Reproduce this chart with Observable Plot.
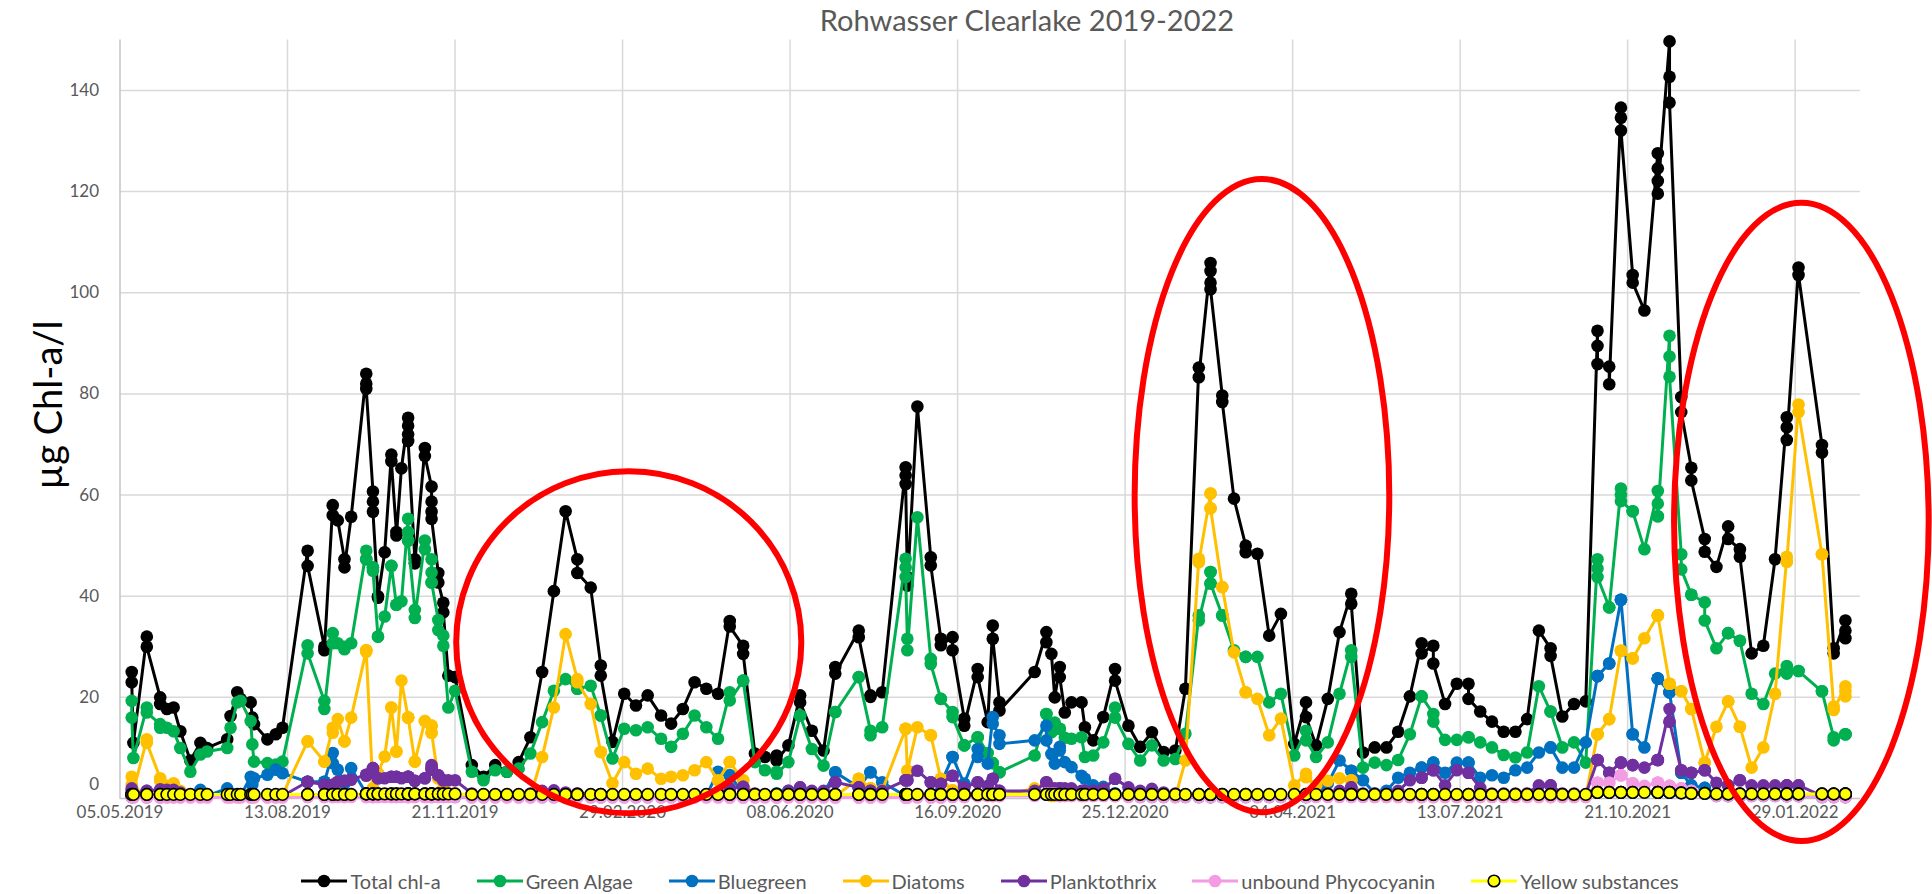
<!DOCTYPE html>
<html>
<head>
<meta charset="utf-8">
<script src="https://cdn.jsdelivr.net/npm/d3@7"></script>
<script src="https://cdn.jsdelivr.net/npm/@observablehq/plot@0.6"></script>
<style>
  html, body { margin: 0; padding: 0; }
  body { width: 1932px; height: 894px; overflow: hidden; background: #fff; position: relative; font-family: Lato, "Open Sans", sans-serif; }
  #chart { position: absolute; left: 0; top: 0; }
  #title { position: absolute; top: 2px; left: 727px; width: 600px; text-align: center; font-size: 29px; line-height: 36px; color: #595959; white-space: nowrap; }
  #ytitle { position: absolute; left: 47px; top: 405px; width: 0; height: 0; }
  #ytitle span { position: absolute; left: 0; top: 0; transform: translate(-50%, -50%) rotate(-90deg); font-size: 38px; line-height: 44px; color: #000; white-space: nowrap; }
  #legend { position: absolute; left: 48px; width: 1884px; top: 869px; display: flex; justify-content: center; gap: 36px; font-size: 20px; line-height: 24px; color: #595959; }
  .item { display: flex; align-items: center; gap: 3px; white-space: nowrap; }
  .item svg { display: block; }
</style>
</head>
<body>
<div id="chart"></div>
<div id="title">Rohwasser Clearlake 2019-2022</div>
<div id="ytitle"><span></span></div>
<div id="legend"></div>
<script>
// ---------------- data ----------------
const originDate = "2019-05-05";      // first axis date
const axisEndDate = "2022-03-09";     // right end of the date axis

// sample day, counted in days from originDate (stacked values share a day)
const sampleDay = [
  7,7,8,16,16,24,24,28,32,36,
  42,48,52,64,66,70,72,78,79,80,
  88,93,97,112,112,122,122,127,127,130,
  134,134,138,147,147,147,151,151,151,154,
  154,158,162,162,165,165,168,172,172,172,
  172,176,176,182,182,186,186,186,186,190,
  190,193,193,196,200,210,217,224,231,238,
  245,252,259,266,273,273,281,287,287,294,
  301,308,315,323,329,336,343,350,357,364,
  364,372,372,379,385,392,392,399,406,406,
  413,420,427,427,441,441,448,448,455,469,
  469,469,470,470,476,484,484,490,490,497,
  497,504,504,512,512,518,521,521,525,525,
  546,553,553,556,558,561,561,564,568,574,
  576,581,587,594,594,602,609,616,623,630,
  636,644,644,651,651,651,651,658,658,665,
  672,672,679,686,693,701,708,708,714,721,
  728,735,735,742,749,756,763,770,777,777,
  784,784,791,798,805,805,812,819,826,833,
  840,847,854,854,861,868,875,882,882,882,
  889,889,896,896,896,903,903,910,918,918,
  918,918,925,925,925,932,932,938,938,946,
  946,953,960,960,967,967,974,981,988,995,
  995,995,1002,1002,1016,1016,1023,1023,1030,1030,1030
];

const totalChl = [
  25,23,11,32,30,20,18.7,17.7,18,13.3,
  7.5,11,10,11.7,16.3,21,19.7,19,16,14.7,
  11.7,12.7,14,49,46,30,29.3,58,56,55,
  47.3,45.7,55.7,84,82,81,60.7,58.7,56.7,40,
  39.7,48.7,68,66.7,52.7,52,65.3,75.3,73.7,72,
  70.7,47.3,46.5,69.3,67.7,61.7,58.7,56.7,55.3,44.6,
  42.7,38.7,36.8,24.3,24,6.6,4.3,6.6,5.3,7.2,
  12.1,25,41,56.8,47.3,44.6,41.7,26.3,24.3,11.2,
  20.7,18.4,20.4,16.4,14.8,17.7,23,21.7,20.7,35.1,
  34,30.2,28.6,8.9,8.2,8.5,7.5,10.5,20.4,19,
  13.4,9.5,26,24.7,33.2,31.9,20.4,20.1,21,65.5,
  63.9,62.2,43.8,42.1,77.5,47.7,46.1,31.6,30.3,31.9,
  29.3,15.8,14.4,25.6,24,15.1,34.2,31.6,19,17.4,
  25,32.9,30.9,28.6,20,26,24,17,19,19,
  14.1,11.5,16.1,25.6,23.3,14.4,10.2,13.1,9.2,9.5,
  21.7,85.2,83.3,105.9,104.3,102,100.7,79.7,78.4,59.3,
  50,48.7,48.4,32.2,36.5,10.8,19,16.1,10.5,19.7,
  32.9,40.5,38.5,9.1,10.1,10.1,13.2,20.2,30.7,28.7,
  30.2,26.7,18.7,22.7,22.7,19.7,17.2,15.2,13.2,13.2,
  15.7,33.2,29.7,28.2,16.2,18.7,19.2,92.5,89.5,85.9,
  85.4,81.9,136.6,134.6,132.1,103.5,102,96.5,127.6,124.6,
  122.1,119.6,149.7,142.7,137.6,79.4,76.4,65.4,62.9,51.3,
  48.8,45.8,53.8,51.3,49.3,47.8,28.7,30.2,47.3,75.4,
  73.4,70.9,105,103.5,69.9,68.4,29.7,28.7,35.2,33.2,31.7
];

const greenAlgae = [
  19.3,16,8,18,17,14.7,14,14,13.3,10,
  5.3,8.7,9.3,10,14,19,19.3,15.3,10.7,7.3,
  7,6.7,7.3,30.3,28.7,19.3,17.7,32.7,30.7,30.7,
  30,29.5,30.7,49,47.3,47.3,45.7,45.7,45,32,
  32,36,46,46,38.3,38.3,39,55.3,52.7,51,
  51,37.3,35.7,51,49.3,47.3,44.7,42.7,42.7,35.3,
  33.3,32.2,30.2,18,21.3,5.3,3.6,5.6,5.3,5.9,
  8.9,15.1,21.3,23.6,21.7,21.7,22.3,16.4,16.4,7.9,
  13.8,13.5,14.1,11.8,10.2,12.8,16.4,14.1,11.8,21,
  19.4,23.3,23.3,7.2,5.6,5.3,4.9,7.2,16.4,16.4,
  9.8,6.5,17.1,17.1,24,24,13.4,12.5,14.1,47.4,
  45.7,43.8,31.6,29.3,55.6,27.6,26.6,19.7,19.7,17.1,
  16.1,10.5,10.5,12.1,12.1,9,7,7,5.2,5.2,
  8.5,16.7,16.7,13.1,15,13.8,13.8,12,11.8,12.1,
  8.2,8.5,11.1,18,16,10.8,7.5,10.5,7.5,7.8,
  12.8,36.2,35.2,44.8,44.8,42.5,42.5,36.2,36.2,29.3,
  28,28,28,19,20.7,8.5,13.4,11.5,8.2,11.1,
  20.7,29.3,28,6.1,7.1,6.6,7.6,12.7,20.2,20.2,
  16.7,15.2,11.6,11.6,12.1,12.1,11.1,10.1,8.6,8.1,
  9.1,22.2,17.2,17.2,10.1,11.1,7.1,47.3,45.5,43.8,
  37.8,37.8,61.3,60,58.8,56.8,56.8,49.3,60.8,58.3,
  55.8,55.8,91.5,87.4,83.4,48.3,45.3,40.3,40.3,38.8,
  35.2,29.7,32.7,32.7,31.2,31.2,20.7,18.7,24.7,26.2,
  25.5,24.7,25.2,25.2,21.2,21.2,12.1,11.5,12.7,12.7,12.7
];

const bluegreen = [
  0.3,0.3,0.3,0.3,0.3,0.3,0.3,0.3,0.3,0.3,
  0.5,1.7,0.5,2,1,0.5,0.5,4.3,2.7,4,
  4.7,5.7,5,3.3,3.3,3.3,3.3,9,7,5.7,
  3,3,6,1,1,1,0.5,0.5,0.5,0.5,
  0.5,0.5,0.5,0.5,0.5,0.5,0.5,0.5,0.5,0.5,
  0.5,0.5,0.5,0.5,0.5,0.5,0.5,0.5,0.5,0.5,
  0.5,0.5,0.5,0.5,0.3,0.3,0.3,0.3,0.3,0.3,
  0.3,0.3,0.3,0.3,0.3,0.3,0.3,0.3,0.3,0.3,
  0.3,0.3,0.3,0.3,0.3,0.3,0.3,0.5,5.3,4.6,
  4.6,1,1,0.5,0.5,1,1,1.5,1,1,
  1,1,5.2,5.2,2.2,2.2,5.2,5.2,3.2,0.5,
  0.5,0.5,0.5,0.5,0.5,0.5,0.5,3,3,8.2,
  8.2,2.9,2.9,9.8,8.2,6.9,16.1,14.8,12.5,10.8,
  11.5,14.4,11.5,8.8,6.9,10.2,9.5,7.2,6.2,4.5,
  3.9,2.6,2.3,1,1,0.5,0.3,0.3,0.3,0.3,
  0.3,0.3,0.3,0.3,0.3,0.3,0.3,0.3,0.3,0.3,
  0.3,0.3,0.3,0.3,0.3,0.3,0.3,0.3,0.5,3,
  7.5,5.5,5.5,3.6,1,1.5,4.1,5.1,6.1,6.1,
  7.1,7.1,5.1,7.1,7.1,7.1,4.1,4.6,4.1,5.6,
  6.1,9.1,10.1,10.1,6.1,6.1,11.1,24.2,24.2,24.2,
  26.7,26.7,39.3,39.3,39.3,12.7,12.7,10.1,23.7,23.7,
  23.7,23.7,21,21,21,5.1,5.1,2.6,2.6,2.1,
  2.1,0.5,0.5,0.5,0.5,0.5,0.5,0.5,0.5,0.5,
  0.5,0.5,0.5,0.5,0.3,0.3,0.3,0.3,0.3,0.3,0.3
];

const diatoms = [
  4.3,2.7,1.5,11.7,11,4,3.5,2.5,3,1.5,
  0.5,0.4,0.4,0.4,0.4,0.4,0.4,0.3,0.3,0.3,
  0.3,0.3,0.7,11.3,11.3,7.3,7.3,14,13,15.7,
  11.3,11.3,16,29.3,29.3,29,2,2,2,5,
  5,8.3,18,18,9.3,9.3,23.3,16,16,16,
  16,7.3,7.3,15.3,15.3,14.4,14.4,13,13,4,
  4,2,2,1,1,0.5,0.4,0.4,0.4,0.4,
  0.5,8.2,18,32.5,23.6,23,18.7,9.2,9.2,3,
  7.2,4.9,5.9,3.9,4.3,4.6,5.6,7.2,3.6,7.2,
  7.2,3.6,3.6,0.5,0.5,0.5,0.5,0.5,0.5,0.5,
  0.5,0.5,0.5,0.5,3.9,3.9,2,2,1.6,13.8,
  13.8,13.8,5.5,5.5,14.1,12.5,12.5,3.9,3.9,1.6,
  1.6,0.5,0.5,0.5,0.5,0.5,0.5,0.5,0.5,0.5,
  2,1,1,0.5,0.5,0.5,0.5,0.5,0.5,0.5,
  0.5,0.5,0.5,0.5,0.5,0.5,0.5,0.5,0.5,0.3,
  7.5,47.4,46.7,60.3,60.3,57.4,57.4,41.8,41.8,28.9,
  21,21,19.7,12.5,15.8,2.6,4.9,4.2,2.6,3.5,
  4,3.6,3.6,0.5,0.3,0.3,0.3,0.3,0.3,0.3,
  0.3,0.3,0.3,0.3,0.3,0.3,0.3,0.3,0.3,0.3,
  0.3,0.3,0.3,0.3,0.3,0.3,0.3,12.7,12.7,12.7,
  15.7,15.7,29.2,29.2,29.2,27.7,27.7,31.7,36.2,36.2,
  36.2,36.2,22.7,22.7,22.7,21.2,21.2,17.7,17.7,7.1,
  7.1,14.2,19.2,19.2,14.2,14.2,6.1,10.1,20.7,47.8,
  46.8,46.8,77.9,76.4,48.3,48.3,18.2,17.5,22.2,21.2,20.2
];

const planktothrix = [
  2,1.5,1,1.5,1.5,1.8,1.6,1.7,1.7,1.2,
  0.8,0.8,0.6,0.8,0.6,0.5,0.5,0.5,0.5,0.5,
  0.5,0.5,0.5,3.3,3.3,2.7,2.7,2.7,2.7,3.3,
  3.5,3.5,3.7,4.7,4.7,4.5,6,6,5.5,4,
  4,4,4.3,4.3,4.3,4.3,4,4.3,4.3,4.3,
  4.3,3.5,3.5,4,4,5.7,6.6,6,6,4.6,
  4.6,3.6,3.6,3.6,3.6,1,0.8,0.8,0.8,0.8,
  1,1.5,1.6,1.2,1,1,0.8,0.8,0.8,0.6,
  0.6,0.6,0.6,0.6,0.6,0.6,0.8,0.8,1,2,
  2,2.3,2.3,1,0.8,0.8,0.8,1.5,2.2,2.2,
  1.5,1.5,3.2,3.2,2.2,2.2,1.5,1.5,1.5,3.6,
  3.6,3.6,3.6,3.6,5.5,3.2,3.2,2.9,2.9,4.5,
  4.5,2.2,2.2,3.2,3.2,2.5,3.9,3.9,1.5,1.5,
  1.5,3.2,3.2,2,2,2,2,2,2,1.5,
  1.5,1.5,1.9,3.9,3.9,2.2,1.5,1.9,1.2,1,
  0.8,0.5,0.5,0.5,0.5,0.5,0.5,0.5,0.5,0.5,
  0.5,0.5,0.5,0.5,0.5,0.5,0.5,0.5,0.5,1,
  1.5,2.2,2.2,1,1,1,1.5,3.6,4.1,4.1,
  5.6,5.6,2.6,5.6,5.1,5.1,2.1,1,1,1,
  1,2.6,2.6,2.6,1,1,0.8,7.6,7.6,7.6,
  5.1,5.1,7.1,7.1,7.1,6.6,6.6,6.1,7.6,7.6,
  7.6,7.6,17.7,15.2,15.2,5.6,5.6,5.1,5.1,5.6,
  5.6,3.1,2.6,2.6,3.6,3.6,2.6,2.6,2.6,2.6,
  2.6,2.6,2.6,2.6,0.5,0.5,0.5,0.5,0.5,0.5,0.5
];

const phycocyanin = [
  0.3,0.3,0.2,0.2,0.2,0.2,0.2,0.2,0.2,0.2,
  0.2,0.2,0.2,0.2,0.2,0.2,0.2,0.2,0.2,0.2,
  0.2,0.2,0.2,0.3,0.3,0.3,0.3,0.3,0.3,0.3,
  0.3,0.3,0.3,0.3,0.3,0.3,0.3,0.3,0.3,0.3,
  0.3,0.3,0.3,0.3,0.3,0.3,0.3,0.3,0.3,0.3,
  0.3,0.3,0.3,0.3,0.3,0.3,0.3,0.3,0.3,0.3,
  0.3,0.3,0.3,0.3,0.3,0.2,0.2,0.2,0.2,0.2,
  0.2,0.2,0.2,0.2,0.2,0.2,0.2,0.2,0.2,0.2,
  0.2,0.2,0.2,0.2,0.2,0.2,0.2,0.2,0.2,0.2,
  0.2,0.2,0.2,0.2,0.2,0.2,0.2,0.2,0.2,0.2,
  0.2,0.2,0.2,0.2,0.2,0.2,0.2,0.2,0.2,0.2,
  0.2,0.2,0.2,0.2,0.2,0.2,0.2,0.2,0.2,0.3,
  0.3,0.3,0.3,0.5,0.5,0.5,0.5,0.5,0.5,0.5,
  0.5,1,1,1,1,0.5,0.5,0.5,0.5,0.5,
  0.5,0.5,0.5,0.5,0.5,0.3,0.3,0.3,0.3,0.3,
  0.3,0.3,0.3,0.3,0.3,0.3,0.3,0.3,0.3,0.3,
  0.3,0.3,0.3,0.3,0.3,0.3,0.3,0.3,0.3,0.3,
  0.3,0.3,0.3,0.3,0.3,0.3,0.3,0.3,0.3,0.3,
  0.3,0.3,0.3,0.3,0.3,0.3,0.3,0.3,0.3,0.3,
  0.3,0.3,0.3,0.3,0.3,0.3,0.3,3.1,3.1,3.1,
  3.1,3.1,4.6,4.6,4.6,3,3,2.5,3.1,3.1,
  3.1,3.1,2.5,2.5,2.5,2,2,1.5,1.5,1,
  1,0.5,0.5,0.5,0.5,0.5,0.5,0.5,0.5,0.5,
  0.5,0.5,0.5,0.5,0.3,0.3,0.3,0.3,0.3,0.3,0.3
];

const yellowSubstances = [
  0.8,0.8,0.8,0.8,0.8,0.8,0.8,0.8,0.8,0.8,
  0.8,0.8,0.8,0.8,0.8,0.8,0.8,0.8,0.8,0.8,
  0.8,0.8,0.8,0.8,0.8,0.8,0.8,0.8,0.8,0.8,
  0.8,0.8,0.8,0.9,0.9,0.9,0.9,0.9,0.9,0.9,
  0.9,0.9,0.9,0.9,0.9,0.9,0.9,0.9,0.9,0.9,
  0.9,0.9,0.9,0.9,0.9,0.9,0.9,0.9,0.9,0.9,
  0.9,0.9,0.9,0.9,0.9,0.8,0.8,0.8,0.8,0.8,
  0.8,0.8,0.8,0.8,0.8,0.8,0.8,0.8,0.8,0.8,
  0.8,0.8,0.8,0.8,0.8,0.8,0.8,0.8,0.8,0.8,
  0.8,0.8,0.8,0.8,0.8,0.8,0.8,0.8,0.8,0.8,
  0.8,0.8,0.8,0.8,0.8,0.8,0.8,0.8,0.8,0.8,
  0.8,0.8,0.8,0.8,0.8,0.8,0.8,0.8,0.8,0.8,
  0.8,0.8,0.8,0.8,0.8,0.8,0.8,0.8,0.8,0.8,
  0.8,0.8,0.8,0.8,0.8,0.8,0.8,0.8,0.8,0.8,
  0.8,0.8,0.8,0.8,0.8,0.8,0.8,0.8,0.8,0.8,
  0.8,0.8,0.8,0.8,0.8,0.8,0.8,0.8,0.8,0.8,
  0.8,0.8,0.8,0.8,0.8,0.8,0.8,0.8,0.8,0.8,
  0.8,0.8,0.8,0.8,0.8,0.8,0.8,0.8,0.8,0.8,
  0.8,0.8,0.8,0.8,0.8,0.8,0.8,0.8,0.8,0.8,
  0.8,0.8,0.8,0.8,0.8,0.8,0.8,1.2,1.2,1.2,
  1.2,1.2,1.2,1.2,1.2,1.2,1.2,1.2,1.2,1.2,
  1.2,1.2,1.2,1.2,1.2,1.1,1.1,1,1,1,
  1,0.9,0.9,0.9,0.9,0.9,0.9,0.9,0.9,0.9,
  0.9,0.9,0.9,0.9,0.9,0.9,0.9,0.9,0.9,0.9,0.9
];

const seriesNames = ["Total chl-a", "Green Algae", "Bluegreen", "Diatoms", "Planktothrix", "unbound Phycocyanin", "Yellow substances"];
const seriesColors = ["#000000", "#00B050", "#0070C0", "#FFC000", "#7030A0", "#F39BE3", "#FFFF00"];

const xTickLabels = ["05.05.2019", "13.08.2019", "21.11.2019", "29.02.2020", "08.06.2020", "16.09.2020",
                     "25.12.2020", "04.04.2021", "13.07.2021", "21.10.2021", "29.01.2022"];
const yTickValues = [0, 20, 40, 60, 80, 100, 120, 140];
const yAxisTitle = "µg Chl-a/l";

// red hand-drawn highlight ellipses: centre date / value, half-width in days, half-height in µg/l
const highlightCenters = ["2020-03-04", "2021-03-17", "2022-02-02"];
const highlightValues = [30.8, 59.8, 54.6];
const highlightHalfDays = [103, 76, 76];
const highlightHalfValues = [33.8, 62.6, 63.1];

// ---------------- build ----------------
const seriesValues = [totalChl, greenAlgae, bluegreen, diatoms, planktothrix, phycocyanin, yellowSubstances];
for (const [k, arr] of seriesValues.entries()) {
  if (arr.length !== sampleDay.length) throw new Error(`series ${seriesNames[k]} has ${arr.length} values, expected ${sampleDay.length}`);
}

const parseISO = d3.utcParse("%Y-%m-%d");
const parseTick = d3.utcParse("%d.%m.%Y");
const origin = parseISO(originDate);
const dates = sampleDay.map(d => d3.utcDay.offset(origin, d));
const xTicks = xTickLabels.map(s => ({date: parseTick(s), label: s}));

const seriesMarks = [];
seriesValues.forEach((vals, k) => {
  const data = vals.map((v, i) => ({date: dates[i], value: v}));
  const color = seriesColors[k];
  seriesMarks.push(Plot.line(data, {x: "date", y: "value", stroke: color, strokeWidth: 3, strokeLinejoin: "round"}));
  if (k === 6) {
    seriesMarks.push(Plot.dot(data, {x: "date", y: "value", r: 5.8, fill: color, stroke: "#000", strokeWidth: 1.6}));
  } else {
    seriesMarks.push(Plot.dot(data, {x: "date", y: "value", r: 6.3, fill: color, stroke: "none"}));
  }
});

const gridColor = "#d9d9d9";
const axisColor = "#c4c4c4";
const labelColor = "#595959";

const chart = Plot.plot({
  width: 1932,
  height: 850,
  marginLeft: 119.5,
  marginRight: 72,
  marginTop: 39.4,
  marginBottom: 52,
  x: {type: "utc", domain: [origin, parseISO(axisEndDate)], axis: null},
  y: {domain: [0, 150], axis: null},
  style: {fontFamily: "Lato, 'Open Sans', sans-serif", background: "white", overflow: "visible"},
  marks: [
    Plot.ruleY(yTickValues.filter(v => v > 0), {y: d => d, stroke: gridColor, strokeWidth: 1.5}),
    Plot.ruleX(xTicks.slice(1), {x: "date", stroke: gridColor, strokeWidth: 1.5}),
    Plot.ruleX(xTicks.slice(0, 1), {x: "date", stroke: axisColor, strokeWidth: 1.5}),
    Plot.ruleY([0], {stroke: axisColor, strokeWidth: 1.5}),
    ...seriesMarks,
    Plot.text(xTicks, {x: "date", text: "label", frameAnchor: "bottom", dy: 19, fill: labelColor, fontSize: 17}),
    Plot.text(yTickValues.filter(v => v > 0), {y: d => d, text: d => String(d), frameAnchor: "left", dx: -21, textAnchor: "end", fill: labelColor, fontSize: 17}),
    // the "0" label sits a little above its line, clear of the date labels
    Plot.text(yTickValues.filter(v => v === 0), {y: d => d, text: d => String(d), frameAnchor: "left", dx: -21, dy: -14, textAnchor: "end", fill: labelColor, fontSize: 17})
  ]
});
document.getElementById("chart").appendChild(chart);

// y axis title (rotated)
document.querySelector("#ytitle span").textContent = yAxisTitle;

// highlight ellipses placed through the chart's own scales
const sx = chart.scale("x"), sy = chart.scale("y");
const svg = d3.select(chart);
highlightCenters.forEach((c, i) => {
  const cd = parseISO(c);
  const cx = sx.apply(cd);
  const rx = sx.apply(d3.utcDay.offset(cd, highlightHalfDays[i])) - cx;
  const cy = sy.apply(highlightValues[i]);
  const ry = sy.apply(highlightValues[i] - highlightHalfValues[i]) - cy;
  svg.append("ellipse")
    .attr("cx", cx).attr("cy", cy).attr("rx", rx).attr("ry", ry)
    .attr("fill", "none").attr("stroke", "#FF0000").attr("stroke-width", 6);
});

// legend
const legend = d3.select("#legend");
seriesNames.forEach((name, k) => {
  const item = legend.append("div").attr("class", "item");
  const sw = item.append("svg").attr("width", 46).attr("height", 16);
  sw.append("line").attr("x1", 0).attr("x2", 46).attr("y1", 8).attr("y2", 8)
    .attr("stroke", seriesColors[k]).attr("stroke-width", 3);
  sw.append("circle").attr("cx", 23).attr("cy", 8).attr("r", k === 6 ? 5.8 : 6.3)
    .attr("fill", seriesColors[k])
    .attr("stroke", k === 6 ? "#000" : "none").attr("stroke-width", 1.6);
  item.append("span").text(name);
});
</script>
</body>
</html>
